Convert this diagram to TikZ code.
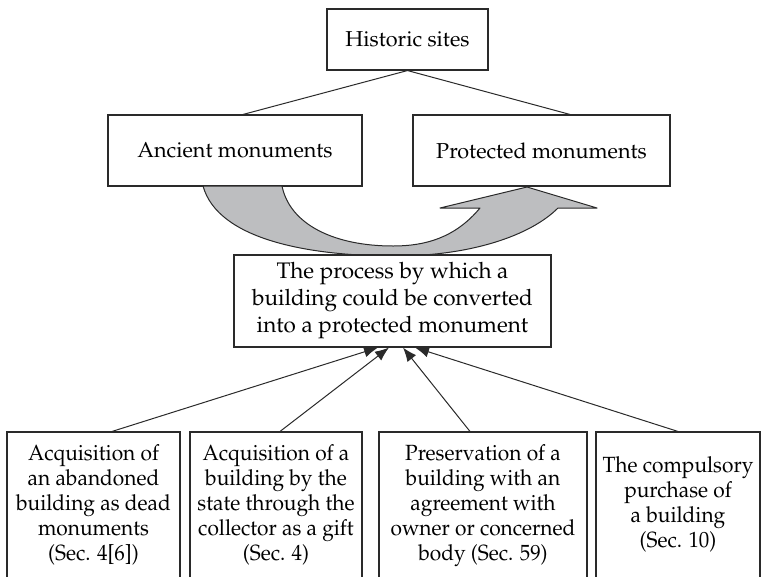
\documentclass[tikz,border=0pt]{standalone}
\usepackage[T1]{fontenc}
\usepackage{mathpazo}
\usetikzlibrary{arrows.meta}
\definecolor{flowgray}{HTML}{BDBEC0}
\definecolor{edge}{HTML}{2A2A2A}
\tikzset{
  box/.style={draw=edge, line width=1.1pt, fill=white, rectangle, align=center,
    inner sep=0pt, font=\fontsize{21.6}{26}\selectfont},
  midbox/.style={box, font=\fontsize{22.5}{27}\selectfont},
  leaf/.style={box, font=\fontsize{22}{25}\selectfont},
  link/.style={draw=edge, line width=1pt},
  feed/.style={link, -{Latex[length=14pt,width=11pt]}},
  flow/.style={fill=flowgray, draw=edge, line width=1pt, line join=round}
}
\newcommand{\squeeze}[1]{\scalebox{0.95}[1]{\begin{tabular}{@{}c@{}}#1\end{tabular}}}
\begin{document}
\begin{tikzpicture}[x=1pt,y=-1pt]
\useasboundingbox (0,0) rectangle (763,576);

% top level
\node[box, minimum width=161pt, minimum height=61pt] (hist) at (407.5,39.5) {Historic sites};
\node[box, minimum width=254pt, minimum height=71pt] (anc)  at (235,150.5) {Ancient monuments};
\node[box, minimum width=257pt, minimum height=71pt] (prot) at (541.5,150.5) {Protected monuments};

\draw[link] (hist.south) -- ([xshift=8pt]anc.north);
\draw[link] (hist.south) -- ([xshift=28.5pt]prot.north);

% broad curved arrow from ancient to protected monuments
\draw[flow] (203,186)
  .. controls (218,240) and (310,256) .. (395,256)
  .. controls (470,256) and (530,236) .. (558,208)
  -- (597,208) -- (527,187) -- (440,208) -- (480,208)
  .. controls (455,238) and (425,246) .. (393,246)
  .. controls (335,246) and (290,225) .. (282,186) -- cycle;

% conversion process
\node[midbox, minimum width=317pt, minimum height=92pt] (proc) at (392.5,301)
  {The process by which a\\ building could be converted\\ into a protected monument};

% routes into the process
\node[leaf, minimum width=173pt, minimum height=146pt] (b1) at (93.5,505)
  {\squeeze{Acquisition of\\ an abandoned\\ building as dead\\ monuments\\ (Sec. 4[6])}};
\node[leaf, minimum width=172pt, minimum height=146pt] (b2) at (276,505)
  {\squeeze{Acquisition of a\\ building by the\\ state through the\\ collector as a gift\\ (Sec. 4)}};
\node[leaf, minimum width=208pt, minimum height=146pt] (b3) at (483,505)
  {\squeeze{Preservation of a\\ building with an\\ agreement with\\ owner or concerned\\ body (Sec. 59)}};
\node[leaf, minimum width=164pt, minimum height=146pt] (b4) at (678,505)
  {\squeeze{The compulsory\\ purchase of\\ a building\\ (Sec. 10)}};

\draw[feed] ([xshift=18.5pt]b1.north) -- ([xshift=-14.5pt]proc.south);
\draw[feed] ([xshift=4pt]b2.north)    -- ([xshift=-3.5pt]proc.south);
\draw[feed] ([xshift=-13pt]b3.north)  -- ([xshift=10.5pt]proc.south);
\draw[feed] (b4.north)                -- ([xshift=22.5pt]proc.south);
\end{tikzpicture}
\end{document}
